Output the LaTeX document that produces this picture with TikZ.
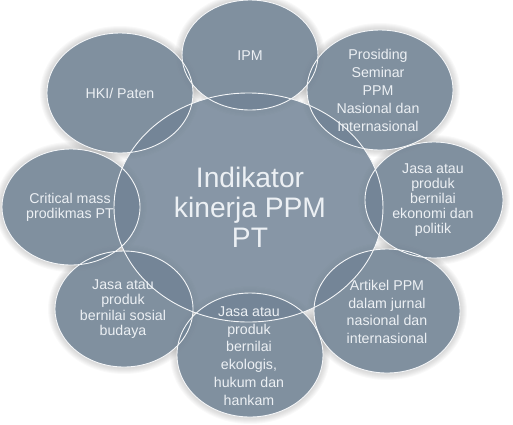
\documentclass[tikz,border=0pt]{standalone}
\usepackage{fontspec}
\setmainfont{Liberation Sans}
\usetikzlibrary{shapes.geometric}

\definecolor{isi}{RGB}{114,132,150}
\definecolor{garis}{RGB}{244,246,248}
\definecolor{tulisan}{RGB}{236,240,244}

\tikzset{
  bulat/.style={ellipse, fill=isi, fill opacity=0.85, inner sep=0pt},
  tepi/.style={ellipse, draw=garis, line width=0.9pt, inner sep=0pt},
  ket/.style={text=tulisan, align=center, inner sep=0pt, font=\fontsize{14.2}{#1}\selectfont},
  ket/.default=17,
}

\begin{document}
\begin{tikzpicture}[x=1pt, y=-1pt]
	% nama / pusat x / pusat y / jari-jari x / jari-jari y
	\def\luar{ipm/250/55/68/55, pros/380/90/73/60, eko/434/200/69/58, art/387/311/73/62,
	          ekol/250/355/73/62, sos/124/309/69/58, crit/71/207/69/58, hki/120/93/73/60}

\useasboundingbox (0,0) rectangle (513,424);

% bayangan lembut
\foreach \n/\cx/\cy/\rx/\ry in \luar {
  \foreach \k in {1,...,7}
    \fill[black, opacity=0.022] (\cx,\cy) ellipse [x radius=\rx+\k, y radius=\ry+\k];
}

% isi lingkaran
\foreach \n/\cx/\cy/\rx/\ry in \luar
  \node[bulat, minimum width=2*\rx pt, minimum height=2*\ry pt] (\n) at (\cx,\cy) {};
\node[bulat, minimum width=269pt, minimum height=229pt] (pusat) at (248.5,207.5) {};

% garis tepi (di atas semua isi)
\foreach \n/\cx/\cy/\rx/\ry in \luar
  \node[tepi, minimum width=2*\rx pt, minimum height=2*\ry pt] at (\n) {};
\node[tepi, minimum width=269pt, minimum height=229pt] at (pusat) {};

% tulisan
\node[ket] (ipm-t) at (250,56) {IPM};
\node[ket=18] (pros-t) at (378,90) {Prosiding\\Seminar\\PPM\\Nasional dan\\Internasional};
\node[ket=15] (eko-t) at (433,200) {Jasa atau\\produk\\bernilai\\ekonomi dan\\politik};
\node[ket=17.4] (art-t) at (387,312) {Artikel PPM\\dalam jurnal\\nasional dan\\internasional};
\node[ket=17.7] (ekol-t) at (249,356) {Jasa atau\\produk\\bernilai\\ekologis,\\hukum dan\\hankam};
\node[ket=15.3] (sos-t) at (123,309) {Jasa atau\\produk\\bernilai sosial\\budaya};
\node[ket=15] (crit-t) at (70,207) {Critical mass\\prodikmas PT};
\node[ket] (hki-t) at (120,93) {HKI/ Paten};
\node[ket, font=\fontsize{28.2}{30}\selectfont] (pusat-t) at (250,207) {Indikator\\kinerja PPM\\PT};

\end{tikzpicture}
\end{document}
